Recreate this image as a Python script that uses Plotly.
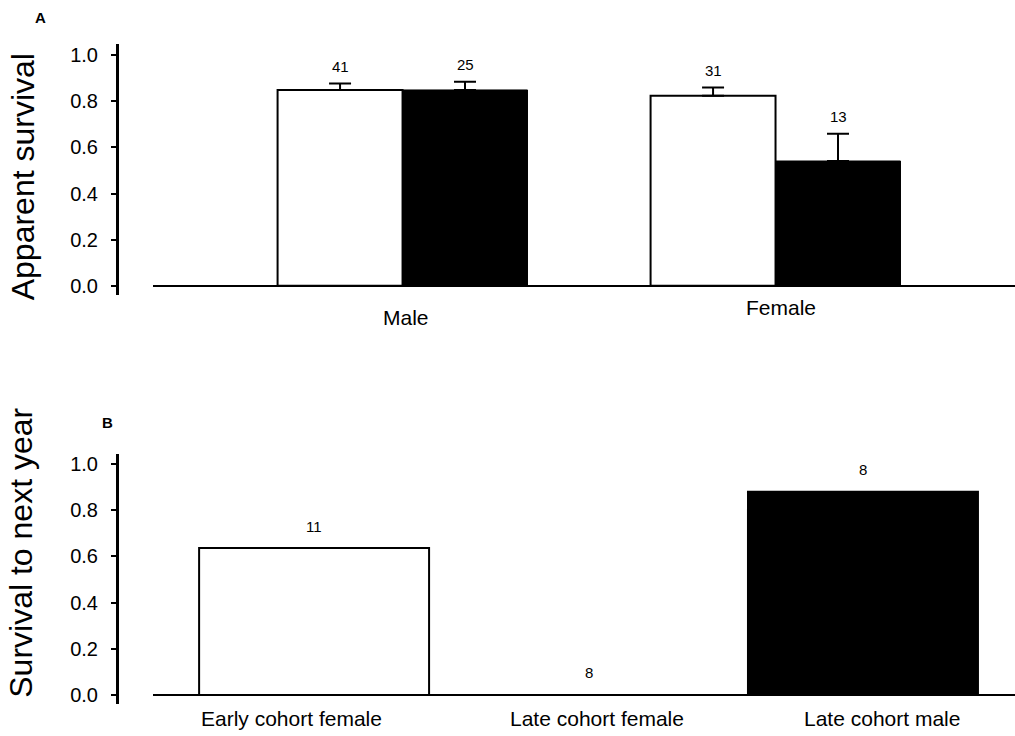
import plotly.graph_objects as go

# ---- data ----
sex_categories = ["Male", "Female"]
early_survival = [0.849, 0.824]
late_survival = [0.849, 0.541]
early_se = [0.028, 0.036]
late_se = [0.036, 0.118]
early_n = ["41", "31"]
late_n = ["25", "13"]

cohort_categories = ["Early cohort female", "Late cohort female", "Late cohort male"]
cohort_survival = [0.636, 0.0, 0.880]
cohort_n = ["11", "8", "8"]
cohort_colors = ["white", "white", "black"]

y_ticks = [0.0, 0.2, 0.4, 0.6, 0.8, 1.0]

FONT = "Arial, Liberation Sans, sans-serif"
W, H = 1015, 736

fig = go.Figure()

# ---- Panel A ----
bargap_a = 0.33
fig.add_trace(go.Bar(
    x=sex_categories, y=early_survival, name="Early cohort",
    marker=dict(color="white", line=dict(color="black", width=2)),
    error_y=dict(type="data", symmetric=False, array=early_se,
                 arrayminus=[0] * len(early_se), color="black", thickness=2, width=11),
    xaxis="x", yaxis="y", showlegend=False, offsetgroup="e"))
fig.add_trace(go.Bar(
    x=sex_categories, y=late_survival, name="Late cohort",
    marker=dict(color="black", line=dict(color="black", width=1)),
    error_y=dict(type="data", symmetric=False, array=late_se,
                 arrayminus=[0] * len(late_se), color="black", thickness=2, width=11),
    xaxis="x", yaxis="y", showlegend=False, offsetgroup="l"))

half = (1 - bargap_a) / 4
annotations = []
for i, cat in enumerate(sex_categories):
    annotations.append(dict(x=i - half, y=early_survival[i] + early_se[i], xref="x", yref="y",
                            text=early_n[i], showarrow=False, yshift=17,
                            font=dict(size=15, color="black", family=FONT)))
    annotations.append(dict(x=i + half, y=late_survival[i] + late_se[i], xref="x", yref="y",
                            text=late_n[i], showarrow=False, yshift=17,
                            font=dict(size=15, color="black", family=FONT)))

a_label_shift = [(3, -32), (5, -22)]
for i, cat in enumerate(sex_categories):
    annotations.append(dict(x=i, y=0, xref="x", yref="y", text=cat, showarrow=False,
                            xshift=a_label_shift[i][0], yshift=a_label_shift[i][1],
                            font=dict(size=21, color="black", family=FONT)))

# ---- Panel B ----
bar_width_b = 0.838
fig.add_trace(go.Bar(
    x=cohort_categories, y=cohort_survival, name="Cohort",
    width=[bar_width_b] * len(cohort_categories),
    marker=dict(color=cohort_colors, line=dict(color="black", width=2)),
    xaxis="x2", yaxis="y2", showlegend=False))

b_label_shift = [-23, 8, 19]
for i, cat in enumerate(cohort_categories):
    annotations.append(dict(x=i, y=cohort_survival[i], xref="x2", yref="y2",
                            text=cohort_n[i], showarrow=False, yshift=22,
                            font=dict(size=15, color="black", family=FONT)))
    annotations.append(dict(x=i, y=0, xref="x2", yref="y2", text=cat, showarrow=False,
                            xshift=b_label_shift[i], yshift=-24,
                            font=dict(size=21, color="black", family=FONT)))

# titles and panel letters
annotations += [
    dict(x=23 / W, y=1 - 177 / H, xref="paper", yref="paper", text="Apparent survival",
         textangle=-90, showarrow=False, xanchor="center", yanchor="middle",
         font=dict(size=32, color="black", family=FONT)),
    dict(x=21 / W, y=1 - 554 / H, xref="paper", yref="paper", text="Survival to next year",
         textangle=-90, showarrow=False, xanchor="center", yanchor="middle",
         font=dict(size=32, color="black", family=FONT)),
    dict(x=40 / W, y=1 - 17 / H, xref="paper", yref="paper", text="<b>A</b>",
         showarrow=False, xanchor="center", yanchor="middle",
         font=dict(size=15, color="black", family=FONT)),
    dict(x=107 / W, y=1 - 423 / H, xref="paper", yref="paper", text="<b>B</b>",
         showarrow=False, xanchor="center", yanchor="middle",
         font=dict(size=15, color="black", family=FONT)),
]

yaxis_common = dict(
    showgrid=False, zeroline=True, zerolinecolor="black", zerolinewidth=2,
    showline=True, linecolor="black", linewidth=3,
    ticks="outside", ticklen=5, tickwidth=2, tickcolor="black",
    tickvals=y_ticks, tickformat=".1f", ticklabelstandoff=9,
    tickfont=dict(size=20, color="black", family=FONT),
    anchor="free", position=117 / W,
)
xaxis_common = dict(showgrid=False, zeroline=False, showline=False, ticks="",
                    showticklabels=False, domain=[153 / W, 1.0])

fig.update_layout(
    width=W, height=H, margin=dict(l=0, r=0, t=0, b=0),
    paper_bgcolor="white", plot_bgcolor="white",
    font=dict(family=FONT, color="black"),
    barmode="group", bargap=bargap_a, bargroupgap=0,
    xaxis=dict(**xaxis_common, range=[-0.669, 1.642], anchor="y"),
    yaxis=dict(**yaxis_common, domain=[1 - 295 / H, 1 - 43 / H], range=[-0.039, 1.049]),
    xaxis2=dict(**xaxis_common, range=[-0.587, 2.554], anchor="y2"),
    yaxis2=dict(**yaxis_common, domain=[1 - 706 / H, 1 - 455 / H], range=[-0.040, 1.043]),
    annotations=annotations,
)

fig.write_html("out.html")
